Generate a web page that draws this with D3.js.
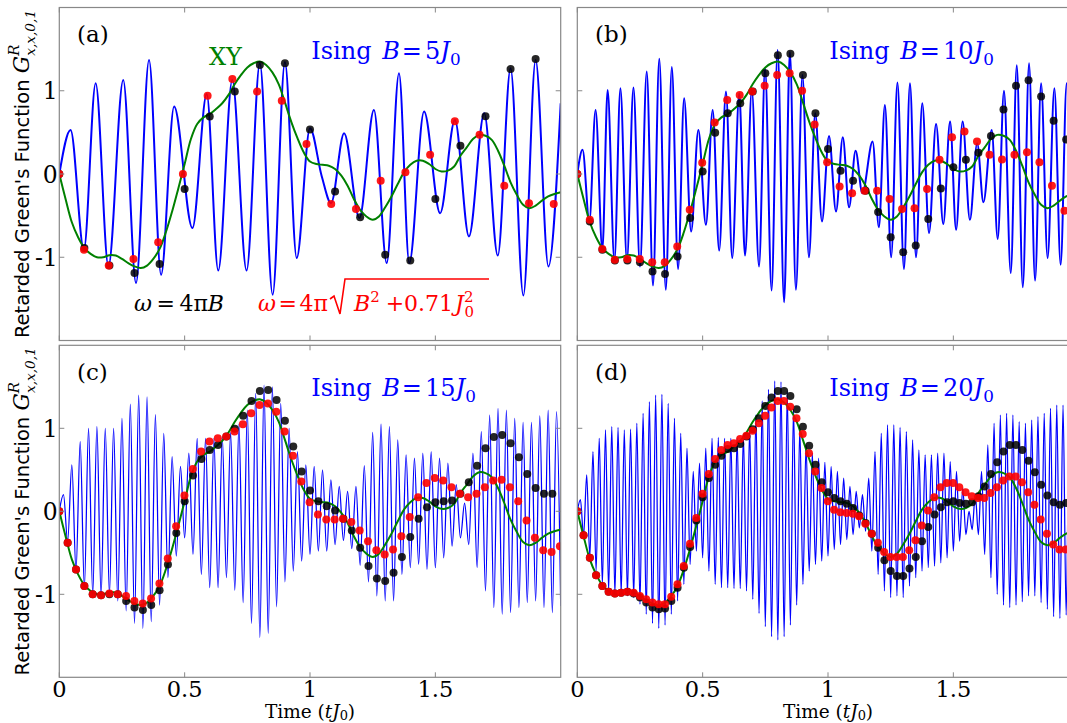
<!DOCTYPE html>
<html><head><meta charset="utf-8">
<script src="https://d3js.org/d3.v7.min.js"></script>
<style>html,body{margin:0;padding:0;background:#fff;overflow:hidden}svg{display:block}</style>
</head><body>
<svg id="chart" width="1067" height="723"></svg>
<script>
// ================= DATA =================
const xTicks = [0, 0.5, 1, 1.5];
const xTickLabels = ["0", "0.5", "1", "1.5"];
const yTicks = [1, 0, -1];
const yTickLabels = ["1", "0", "-1"];
const panelNames = ["(a)", "(b)", "(c)", "(d)"];
const fieldB = [5, 10, 15, 20];
const fieldLabels = ["5", "10", "15", "20"];

// XY (green) curve, same in every panel, sampled every 0.025
const xyStep = 0.025;
const xyValue = [0,-0.30,-0.58,-0.76,-0.89,-0.96,-1.00,-1.00,-0.975,-0.98,-1.02,-1.07,-1.11,-1.13,-1.10,-1.02,-0.90,-0.70,-0.45,-0.17,
 0.12,0.42,0.60,0.68,0.72,0.78,0.85,0.95,1.08,1.19,1.28,1.33,1.35,1.31,1.22,1.08,0.86,0.63,0.43,0.26,
 0.15,0.12,0.11,0.10,0.06,-0.02,-0.14,-0.30,-0.43,-0.51,-0.55,-0.51,-0.40,-0.27,-0.12,0.02,0.11,0.16,0.16,0.12,
 0.06,0.03,0.04,0.09,0.22,0.32,0.42,0.47,0.46,0.41,0.28,0.10,-0.10,-0.25,-0.37,-0.41,-0.38,-0.32,-0.27,-0.24,-0.22];

// Ising (blue) curve, panel (a): extrema times and values
const isingA_t = [0,0.045,0.098,0.145,0.196,0.255,0.306,0.358,0.406,0.458,0.531,0.588,0.634,0.690,0.747,0.800,0.851,0.900,0.947,1.000,1.047,1.084,1.136,1.197,1.255,1.306,1.355,1.396,1.455,1.519,1.578,1.634,1.695,1.749,1.800,1.851,1.900,1.951,2.0];
const isingA_v = [0,0.53,-0.91,1.09,-1.11,1.13,-1.31,1.37,-1.21,0.81,-0.65,0.96,-1.16,1.13,-1.16,1.33,-1.45,1.345,-1.01,0.55,-0.03,-0.35,0.49,-0.53,0.77,-1.07,1.21,-1.07,0.75,-0.47,0.65,-0.75,0.73,-0.98,1.27,-1.46,1.37,-1.11,0.85];
// panel (b)
const isingB_t = [0,0.021,0.048,0.073,0.100,0.121,0.148,0.172,0.198,0.224,0.250,0.277,0.302,0.327,0.353,0.377,0.402,0.426,0.454,0.483,0.513,0.540,0.566,0.593,0.618,0.646,0.669,0.696,0.725,0.749,0.775,0.799,0.825,0.848,0.872,0.898,0.924,0.949,0.976,1.004,1.032,1.059,1.084,1.110,1.137,1.178,1.203,1.227,1.252,1.277,1.303,1.327,1.351,1.376,1.403,1.431,1.460,1.487,1.511,1.537,1.566,1.595,1.620,1.653,1.677,1.702,1.729,1.753,1.777,1.802,1.826,1.850,1.876,1.903,1.928,1.952,1.977,2.0];
const isingB_v = [0,0.29,-0.57,0.77,-0.91,1.01,-1.04,1.03,-1.04,1.04,-1.11,1.23,-1.34,1.385,-1.39,1.285,-1.14,0.91,-0.69,0.53,-0.61,0.77,-0.92,0.99,-1.01,0.97,-0.98,1.01,-1.11,1.27,-1.40,1.49,-1.54,1.465,-1.39,1.19,-1.0,0.73,-0.57,0.455,-0.45,0.44,-0.40,0.28,-0.23,0.39,-0.64,0.83,-1.0,1.10,-1.14,1.09,-1.0,0.85,-0.71,0.60,-0.60,0.63,-0.67,0.63,-0.55,0.37,-0.34,0.53,-0.78,1.0,-1.19,1.305,-1.36,1.33,-1.28,1.09,-1.01,1.03,-1.09,1.09,-1.05,1.0];
// panels (c),(d): successive peaks / troughs, one pair per oscillation period
const isingC_peaks = [0.2,0.56,0.84,1.0,1.02,1.0,1.0,1.12,1.29,1.40,1.38,1.165,0.94,0.66,0.54,0.70,0.88,0.88,0.88,0.9,0.95,1.05,1.22,1.42,1.52,1.50,1.30,1.0,0.72,0.56,0.54,0.50,0.38,0.30,0.24,0.30,0.55,0.95,1.05,1.02,0.86,0.68,0.64,0.70,0.72,0.64,0.58,0.32,0.10,0.7,0.96,1.16,1.24,1.22,1.12,1.07,1.07,1.15,1.22,1.2];
const isingC_troughs = [-0.36,-0.72,-0.92,-1.0,-1.02,-1.0,-1.08,-1.2,-1.35,-1.41,-1.33,-1.13,-0.8,-0.54,-0.32,-0.52,-0.76,-0.92,-0.92,-0.80,-0.95,-1.10,-1.35,-1.52,-1.47,-1.15,-0.85,-0.72,-0.60,-0.52,-0.48,-0.48,-0.40,-0.35,-0.45,-0.65,-0.85,-1.02,-1.08,-1.08,-0.76,-0.68,-0.64,-0.70,-0.68,-0.56,-0.42,-0.32,-0.40,-0.68,-0.96,-1.16,-1.24,-1.22,-1.16,-1.10,-1.08,-1.16,-1.22,-1.14];
const isingD_peaks = [0.14,0.44,0.72,0.88,0.98,1.02,1.01,0.98,0.99,1.06,1.18,1.32,1.40,1.41,1.30,1.12,0.94,0.76,0.48,0.58,0.76,0.88,0.89,0.88,0.88,
 0.88,0.92,1.0,1.16,1.33,1.47,1.57,1.56,1.45,1.25,1.0,0.80,0.70,0.64,0.59,0.54,0.48,0.40,0.30,0.24,0.20,0.40,0.72,0.94,1.04,1.04,1.01,
 0.96,0.86,0.74,0.68,0.68,0.70,0.70,0.60,0.48,0.28,0.0,0.20,0.48,0.80,1.06,1.16,1.18,1.16,1.08,1.06,1.10,1.14,1.18,1.24,1.28,1.28,1.25,1.2];
const isingD_troughs = [-0.30,-0.55,-0.72,-0.88,-0.96,-1.0,-1.0,-1.02,-1.04,-1.12,-1.24,-1.35,-1.41,-1.37,-1.24,-1.08,-0.88,-0.64,-0.48,-0.56,-0.72,-0.88,-0.92,-0.92,
 -0.93,-0.93,-0.96,-1.06,-1.23,-1.39,-1.51,-1.55,-1.51,-1.37,-1.13,-0.88,-0.72,-0.64,-0.60,-0.54,-0.46,-0.40,-0.34,-0.28,-0.20,-0.24,-0.48,-0.76,-0.96,-1.04,-1.02,
 -1.04,-0.90,-0.80,-0.72,-0.68,-0.66,-0.62,-0.56,-0.48,-0.36,-0.28,-0.22,-0.28,-0.52,-0.80,-1.0,-1.13,-1.16,-1.13,-1.09,-1.02,-1.02,-1.10,-1.18,-1.27,-1.29,-1.25,-1.2,-1.15];

// stroboscopic samples: black (omega = 4 pi B), red (omega = 4 pi sqrt(B^2+0.71 J0^2))
const blackA = [0,-0.89,-1.10,-1.19,-1.08,-0.18,0.69,0.99,1.31,1.33,0.535,-0.21,-0.52,-0.97,-1.04,-0.30,0.34,0.695,1.26,1.38];
const redA = [0,-0.91,-1.10,-1.02,-0.82,0.0,0.94,1.14,0.99,0.88,0.36,-0.36,-0.42,-0.08,0.02,0.23,0.635,0.47,-0.14,-0.35,-0.36];
const blackB = [0,-0.57,-0.91,-1.04,-1.04,-1.06,-1.17,-1.20,-0.99,-0.53,0.03,0.495,0.73,0.85,0.99,1.21,1.425,1.445,1.19,0.73,0.30,0.04,-0.08,-0.2,-0.455,-0.76,-0.94,-0.86,-0.54,-0.175,0.08,0.17,0.255,0.455,0.775,1.06,1.125,0.93,0.64,0.415];
const redB = [0,-0.55,-0.90,-1.03,-1.02,-1.02,-1.06,-1.06,-0.87,-0.43,0.135,0.62,0.89,0.95,0.99,1.06,1.19,1.21,1.0,0.595,0.14,-0.15,-0.23,-0.2,-0.2,-0.30,-0.42,-0.41,-0.18,0.17,0.44,0.51,0.39,0.23,0.175,0.23,0.26,0.14,-0.14,-0.44];
const blackC = [0,-0.38,-0.70,-0.90,-1.0,-1.01,-1.0,-1.0,-1.08,-1.16,-1.19,-1.13,-0.95,-0.64,-0.26,0.12,0.43,0.63,0.74,0.80,0.90,0.995,1.15,1.33,1.45,1.46,1.34,1.09,0.78,0.48,0.25,0.12,0.06,0.01,-0.09,-0.23,-0.44,-0.66,-0.81,-0.84,-0.74,-0.55,-0.31,-0.09,0.05,0.108,0.12,0.13,0.21,0.35,0.55,0.76,0.894,0.92,0.82,0.65,0.45,0.28,0.21,0.21];
const redC = [0,-0.38,-0.70,-0.90,-1.0,-1.01,-0.99,-1.0,-1.02,-1.08,-1.11,-1.05,-0.87,-0.57,-0.18,0.19,0.51,0.72,0.84,0.88,0.90,0.96,1.05,1.18,1.28,1.30,1.20,0.96,0.67,0.36,0.11,-0.04,-0.10,-0.10,-0.09,-0.13,-0.23,-0.36,-0.47,-0.52,-0.46,-0.30,-0.07,0.17,0.34,0.40,0.37,0.29,0.21,0.17,0.21,0.29,0.37,0.38,0.29,0.12,-0.11,-0.32,-0.47,-0.49,-0.42];
const blackD = [0,-0.29,-0.56,-0.77,-0.90,-0.97,-0.99,-0.98,-0.97,-0.99,-1.04,-1.10,-1.16,-1.18,-1.17,-1.08,-0.92,-0.68,-0.43,-0.11,0.17,0.40,0.56,0.67,0.75,0.76,0.81,0.90,0.99,1.12,1.27,1.37,1.45,1.45,1.39,1.23,1.02,0.79,0.56,0.35,0.23,0.16,0.12,0.09,0.04,-0.05,-0.14,-0.27,-0.44,-0.59,-0.72,-0.78,-0.78,-0.69,-0.55,-0.36,-0.19,-0.04,0.05,0.11,0.12,0.10,0.09,0.11,0.18,0.30,0.45,0.59,0.72,0.80,0.80,0.74,0.61,0.47,0.32,0.19,0.11,0.08,0.10];
const redD = [0,-0.29,-0.56,-0.77,-0.90,-0.97,-0.99,-0.98,-0.97,-0.98,-1.02,-1.06,-1.10,-1.12,-1.12,-1.03,-0.88,-0.66,-0.39,-0.08,0.21,0.45,0.63,0.74,0.80,0.82,0.87,0.91,0.97,1.06,1.15,1.25,1.33,1.33,1.26,1.12,0.93,0.70,0.48,0.28,0.12,0.02,-0.01,-0.02,-0.03,-0.06,-0.15,-0.27,-0.38,-0.49,-0.55,-0.55,-0.55,-0.47,-0.35,-0.17,0.01,0.17,0.29,0.34,0.34,0.29,0.23,0.18,0.16,0.16,0.22,0.29,0.37,0.42,0.42,0.35,0.23,0.08,-0.10,-0.27,-0.40,-0.46,-0.46];

// ================= LAYOUT =================
const svg = d3.select("#chart");
const SERIF = "DejaVu Serif", SANS = "DejaVu Sans";
const FRAME = "#888888";
const BLUE = "#0000ff", GREEN = "#008000", RED = "#ff0000";

function toPairs(ts, vs){ return ts.map((t,i)=>({t, v:vs[i]})); }
function interleave(B, peaks, troughs){
  const pts=[{t:0,v:0}]; const h=1/(4*B);
  for(let k=0;k<peaks.length;k++){
    pts.push({t:(2*k+1)*h, v:peaks[k]});
    if(k<troughs.length) pts.push({t:(2*k+2)*h, v:troughs[k]});
  }
  return pts;
}
function samples(vals, period){ return vals.map((v,k)=>({t:k*period, v})); }

const panels = [
  {left:59.3, top:7.5, bottom:340.5, ising: toPairs(isingA_t,isingA_v), black:blackA, red:redA, bw:2, ylab:true, xlab:false},
  {left:577.3, top:7.5, bottom:340.5, ising: toPairs(isingB_t,isingB_v), black:blackB, red:redB, bw:2, ylab:false, xlab:false},
  {left:59.3, top:345.3, bottom:677.3, ising: interleave(15,isingC_peaks,isingC_troughs), black:blackC, red:redC, bw:1.25, ylab:true, xlab:true},
  {left:577.3, top:345.3, bottom:677.3, ising: interleave(20,isingD_peaks,isingD_troughs), black:blackD, red:redD, bw:1.25, ylab:false, xlab:true},
];
const PW = 501.4;

function rich(parent, x, y, parts, o){
  const t = parent.append("text").attr("x",x).attr("y",y)
    .attr("font-family",o.family||SERIF).attr("font-size",o.size).attr("fill",o.color||"#000");
  if(o.anchor) t.attr("text-anchor",o.anchor);
  let cur=0;
  parts.forEach(p=>{
    const ts=t.append("tspan").text(p.t);
    const target=(p.shift||0)*o.size;
    if(target-cur!==0) ts.attr("dy",target-cur);
    cur=target;
    if(p.i) ts.attr("font-style","italic");
    if(p.s) ts.attr("font-size",o.size*p.s);
    if(p.dx) ts.attr("dx",p.dx);
    if(p.fam) ts.attr("font-family",p.fam);
  });
  return t;
}

panels.forEach((P,pi)=>{
  const B = fieldB[pi];
  const x = d3.scaleLinear().domain([0,2]).range([P.left, P.left+PW]);
  const y = d3.scaleLinear().domain([-2,2]).range([P.bottom, P.top]);
  const g = svg.append("g");
  const cid = "clip"+pi;
  svg.append("clipPath").attr("id",cid).append("rect")
    .attr("x",P.left).attr("y",P.top).attr("width",PW).attr("height",P.bottom-P.top);
  const plot = g.append("g").attr("clip-path",`url(#${cid})`);

  const line = d3.line().x(d=>x(d.t)).y(d=>y(d.v)).curve(d3.curveMonotoneX);
  plot.append("path").datum(P.ising).attr("d",line).attr("fill","none")
    .attr("stroke",BLUE).attr("stroke-width",P.bw).attr("stroke-linejoin","round");
  const xyPts = xyValue.map((v,i)=>({t:i*xyStep, v}));
  plot.append("path").datum(xyPts).attr("d",d3.line().x(d=>x(d.t)).y(d=>y(d.v)).curve(d3.curveCatmullRom))
    .attr("fill","none").attr("stroke",GREEN).attr("stroke-width",2);

  const pB = 1/(2*B), pR = 1/(2*Math.sqrt(B*B+0.71));
  plot.selectAll(".bk").data(samples(P.black,pB)).join("circle")
    .attr("cx",d=>x(d.t)).attr("cy",d=>y(d.v)).attr("r",4).attr("fill","#000").attr("fill-opacity",0.85);
  plot.selectAll(".rd").data(samples(P.red,pR)).join("circle")
    .attr("cx",d=>x(d.t)).attr("cy",d=>y(d.v)).attr("r",4).attr("fill",RED).attr("fill-opacity",0.9);

  // frame
  g.append("rect").attr("x",P.left).attr("y",P.top).attr("width",PW).attr("height",P.bottom-P.top)
    .attr("fill","none").attr("stroke",FRAME).attr("stroke-width",1.2);
  // ticks (inside, all sides)
  const tl=5;
  xTicks.forEach(t=>{
    g.append("line").attr("x1",x(t)).attr("x2",x(t)).attr("y1",P.bottom).attr("y2",P.bottom-tl).attr("stroke",FRAME);
    g.append("line").attr("x1",x(t)).attr("x2",x(t)).attr("y1",P.top).attr("y2",P.top+tl).attr("stroke",FRAME);
  });
  yTicks.forEach(v=>{
    g.append("line").attr("x1",P.left).attr("x2",P.left+tl).attr("y1",y(v)).attr("y2",y(v)).attr("stroke",FRAME);
    g.append("line").attr("x1",P.left+PW).attr("x2",P.left+PW-tl).attr("y1",y(v)).attr("y2",y(v)).attr("stroke",FRAME);
  });
  if(P.ylab){
    yTicks.forEach((v,i)=>{
      g.append("text").attr("x",P.left-1.5).attr("y",y(v)+8.5).attr("text-anchor","end")
        .attr("font-family",SERIF).attr("font-size",23.5).text(yTickLabels[i]);
    });
    const yl = g.append("g").attr("transform",`translate(29,${(P.top+P.bottom)/2}) rotate(-90)`);
    rich(yl,0,0,[
      {t:"Retarded Green's Function ", fam:SANS},
      {t:"G", i:1, s:1.12, fam:SERIF},
      {t:"R", i:1, s:0.76, shift:-0.5, fam:SERIF},
      {t:"x,x,0,1", i:1, s:0.7, shift:0.3, dx:-11, fam:SERIF}
    ],{size:19.5, anchor:"middle", family:SANS});
  }
  if(P.xlab){
    xTicks.forEach((t,i)=>{
      g.append("text").attr("x",x(t)).attr("y",697).attr("text-anchor","middle")
        .attr("font-family",SERIF).attr("font-size",22.5).text(xTickLabels[i]);
    });
    rich(g, P.left+PW/2, 717.5, [
      {t:"Time ("},{t:"t",i:1},{t:"J",i:1},{t:"0",s:0.7,shift:0.12},{t:")",shift:0}
    ],{size:18.5, anchor:"middle"});
  }
  // panel letter
  g.append("text").attr("x",P.left+17.7).attr("y",P.top+34.5)
    .attr("font-family",SERIF).attr("font-size",23).text(panelNames[pi]);
  // Ising label
  rich(g, P.left+252, P.top+51, [
    {t:"Ising "},{t:"B",i:1,dx:3},{t:"=",dx:2},{t:fieldLabels[pi],dx:3},{t:"J",i:1},{t:"0",s:0.7,shift:0.25}
  ],{size:24, color:BLUE});
});

// extra annotations in panel (a)
svg.append("text").attr("x",209).attr("y",65).attr("font-family",SERIF).attr("font-size",24)
  .attr("fill",GREEN).text("XY");
rich(svg,134,311,[{t:"ω",i:1},{t:"=",dx:4.5},{t:"4π",dx:4.5},{t:"B",i:1}],{size:22});
rich(svg,258,311,[{t:"ω",i:1},{t:"=",dx:2.5},{t:"4π",dx:2.5}],{size:22,color:RED});
svg.append("path").attr("d","M330,299 L334,296 L340,314 L345,279 L489,279")
  .attr("fill","none").attr("stroke",RED).attr("stroke-width",1.6);
rich(svg,354,311,[{t:"B",i:1},{t:"2",s:0.68,shift:-0.42},{t:"+0.71",shift:0,dx:6},{t:"J",i:1,dx:2},{t:"2",s:0.68,shift:-0.42},{t:"0",s:0.68,shift:0.25,dx:-9}],{size:22,color:RED});
</script>
</body></html>
